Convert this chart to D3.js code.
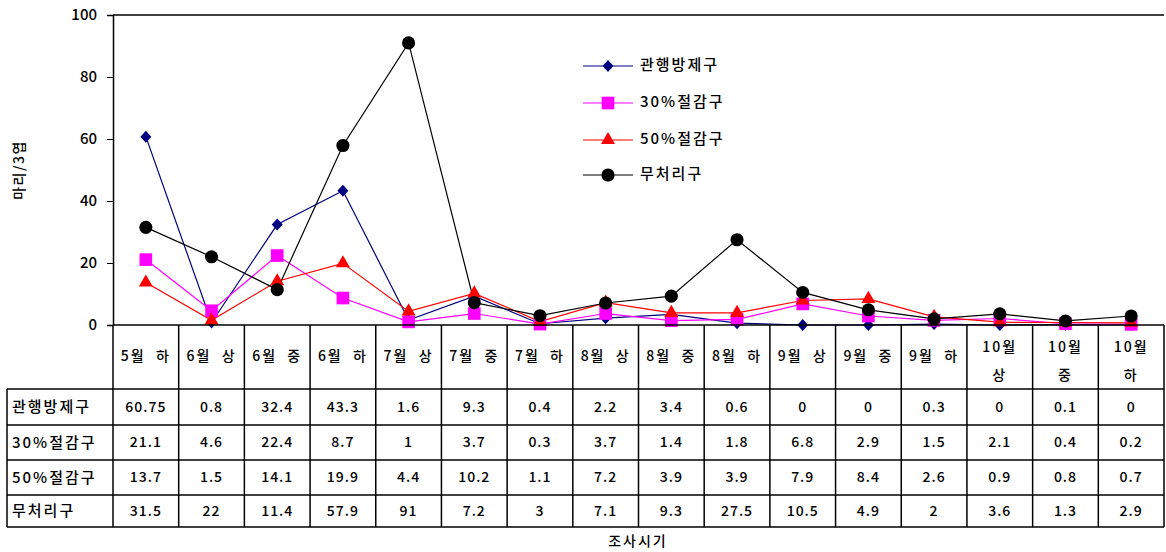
<!DOCTYPE html>
<html>
<head>
<meta charset="utf-8">
<script src="https://cdn.jsdelivr.net/npm/d3@7/dist/d3.min.js"></script>
<style>
  html, body { margin: 0; padding: 0; background: #fff; }
  svg text { font-family: "Noto Sans CJK KR", "DejaVu Sans", sans-serif; fill: #000; font-weight: 500; }
</style>
</head>
<body>
<svg id="chart" width="1166" height="552"></svg>
<script>
// Survey periods (month + early/mid/late)
const periods = ["5월 하","6월 상","6월 중","6월 하","7월 상","7월 중","7월 하","8월 상","8월 중","8월 하","9월 상","9월 중","9월 하","10월 상","10월 중","10월 하"];

const seriesNames = ["관행방제구","30%절감구","50%절감구","무처리구"];

const conventional = [60.75, 0.8, 32.4, 43.3, 1.6, 9.3, 0.4, 2.2, 3.4, 0.6, 0, 0, 0.3, 0, 0.1, 0];
const reduced30    = [21.1, 4.6, 22.4, 8.7, 1, 3.7, 0.3, 3.7, 1.4, 1.8, 6.8, 2.9, 1.5, 2.1, 0.4, 0.2];
const reduced50    = [13.7, 1.5, 14.1, 19.9, 4.4, 10.2, 1.1, 7.2, 3.9, 3.9, 7.9, 8.4, 2.6, 0.9, 0.8, 0.7];
const untreated    = [31.5, 22, 11.4, 57.9, 91, 7.2, 3, 7.1, 9.3, 27.5, 10.5, 4.9, 2, 3.6, 1.3, 2.9];

const yTicks = [0, 20, 40, 60, 80, 100];

const seriesValues = [conventional, reduced30, reduced50, untreated];
const styles = [
  { color: "#000080", marker: "diamond" },
  { color: "#FF00FF", marker: "square" },
  { color: "#FF0000", marker: "triangle" },
  { color: "#000000", marker: "circle" }
];

const svg = d3.select("#chart");
const plotLeft = 113, plotRight = 1164, plotTop = 15, plotBottom = 325;
const tableLeft = 7;
const headerBottom = 389;
const rowLines = [389, 425, 460, 495, 527];

const x = d3.scaleBand().domain(periods).range([plotLeft, plotRight]).padding(0);
const y = d3.scaleLinear().domain([0, 100]).range([plotBottom, plotTop]);
const cx = p => x(p) + x.bandwidth() / 2;

// Plot frame top edge
svg.append("line").attr("x1", plotLeft).attr("x2", plotRight).attr("y1", plotTop).attr("y2", plotTop)
  .attr("stroke", "#000").attr("stroke-width", 1.5);

// Y axis
const yAxis = svg.append("g").attr("transform", `translate(${plotLeft},0)`)
  .call(d3.axisLeft(y).tickValues(yTicks).tickSize(6).tickPadding(10));
yAxis.select(".domain").attr("stroke", "#000").attr("stroke-width", 1.5);
yAxis.selectAll("text").attr("font-size", 15).style("font-family", "\"Noto Sans CJK KR\", sans-serif");

svg.append("text").attr("transform", "translate(20,170) rotate(-90)")
  .attr("text-anchor", "middle").attr("dominant-baseline", "middle")
  .attr("font-size", 14).attr("letter-spacing", 1.5).text("마리/3엽");

// Marker shapes
const diamondPath = "M0,-6L5.5,0L0,6L-5.5,0Z";
function markerPath(kind) {
  if (kind === "diamond") return diamondPath;
  const types = { square: d3.symbolSquare, triangle: d3.symbolTriangle, circle: d3.symbolCircle };
  const sizes = { square: 160, triangle: 85, circle: 135 };
  return d3.symbol().type(types[kind]).size(sizes[kind])();
}

// Lines and markers
const line = d3.line().x((d, i) => cx(periods[i])).y(d => y(d));

seriesValues.forEach((vals, si) => {
  const st = styles[si];
  svg.append("path").datum(vals).attr("d", line)
    .attr("fill", "none").attr("stroke", st.color).attr("stroke-width", 1.2);
});
seriesValues.forEach((vals, si) => {
  const st = styles[si];
  svg.append("g").selectAll("path").data(vals).join("path")
    .attr("transform", (d, i) => `translate(${cx(periods[i])},${y(d)})`)
    .attr("d", markerPath(st.marker))
    .attr("fill", st.color);
});

// X axis line at zero
svg.append("line").attr("x1", plotLeft).attr("x2", plotRight).attr("y1", plotBottom).attr("y2", plotBottom)
  .attr("stroke", "#000").attr("stroke-width", 1.5);

// Data table grid
const grid = svg.append("g").attr("stroke", "#000").attr("stroke-width", 1.5);
const bounds = periods.map(p => x(p)).concat([plotRight]);
bounds.forEach(bx => {
  grid.append("line").attr("x1", bx).attr("x2", bx).attr("y1", plotBottom).attr("y2", rowLines[rowLines.length - 1]);
});
grid.append("line").attr("x1", tableLeft).attr("x2", tableLeft).attr("y1", headerBottom).attr("y2", rowLines[rowLines.length - 1]);
rowLines.forEach(ry => {
  grid.append("line").attr("x1", tableLeft).attr("x2", plotRight).attr("y1", ry).attr("y2", ry);
});

// Period labels in header row
periods.forEach(p => {
  const parts = p.split(" ");
  const t = svg.append("text").attr("text-anchor", "middle").attr("font-size", 14).attr("letter-spacing", 2);
  if (parts[0].length > 2) {
    t.append("tspan").attr("x", cx(p)).attr("y", 348).attr("dominant-baseline", "middle").text(parts[0]);
    t.append("tspan").attr("x", cx(p)).attr("y", 376).attr("dominant-baseline", "middle").text(parts[1]);
  } else {
    t.attr("x", cx(p)).attr("y", 357).attr("dominant-baseline", "middle").attr("xml:space", "preserve")
      .text(p.replace(" ", "  "));
  }
});

// Row headers and values
seriesValues.forEach((vals, si) => {
  const cy = (rowLines[si] + rowLines[si + 1]) / 2 + 1;
  svg.append("text").attr("x", tableLeft + 5).attr("y", cy).attr("dominant-baseline", "middle")
    .attr("font-size", 15).attr("letter-spacing", 2).text(seriesNames[si]);
  svg.append("g").selectAll("text").data(vals).join("text")
    .attr("x", (d, i) => cx(periods[i])).attr("y", cy)
    .attr("text-anchor", "middle").attr("dominant-baseline", "middle")
    .attr("font-size", 14).attr("letter-spacing", 1).text(d => d);
});

svg.append("text").attr("x", 638).attr("y", 542).attr("text-anchor", "middle")
  .attr("dominant-baseline", "middle").attr("font-size", 14).attr("letter-spacing", 2).text("조사시기");

// Legend
const legend = svg.append("g");
const legendY = [66, 103, 140, 175];
seriesNames.forEach((name, si) => {
  const st = styles[si];
  const ly = legendY[si];
  legend.append("line").attr("x1", 583).attr("x2", 633).attr("y1", ly).attr("y2", ly)
    .attr("stroke", st.color).attr("stroke-width", 1.2);
  legend.append("path").attr("transform", `translate(608,${ly})`)
    .attr("d", markerPath(st.marker))
    .attr("fill", st.color);
  legend.append("text").attr("x", 640).attr("y", ly).attr("dominant-baseline", "middle")
    .attr("font-size", 15).attr("letter-spacing", 2).text(name);
});
</script>
</body>
</html>
